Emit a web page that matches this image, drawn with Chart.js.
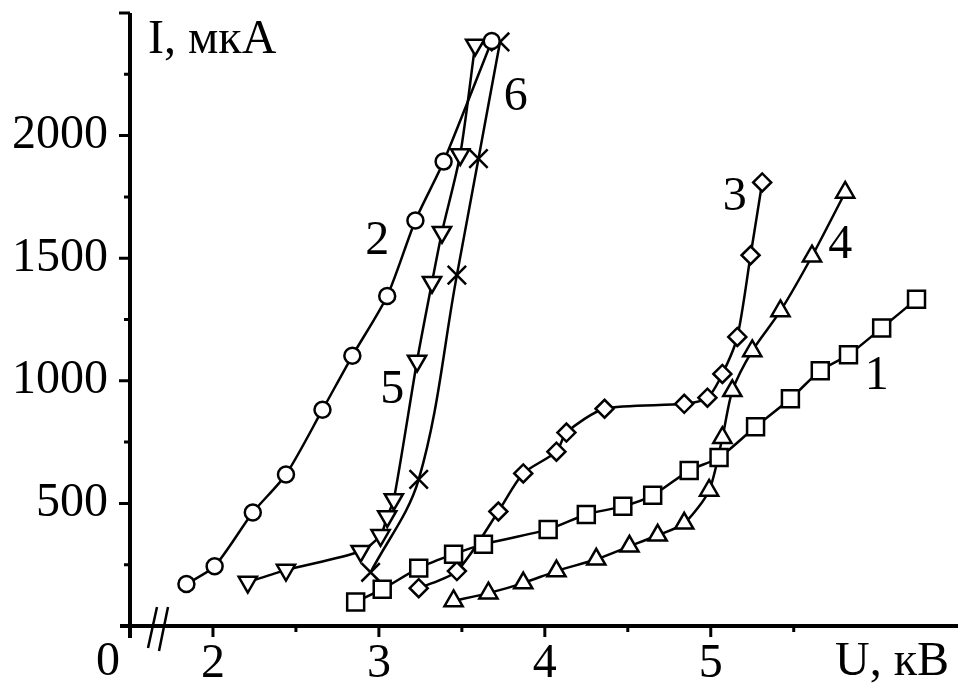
<!DOCTYPE html>
<html>
<head>
<meta charset="utf-8">
<script src="https://cdn.jsdelivr.net/npm/chart.js@4"></script>
<style>
  body { margin: 0; background: #fff; }
  #wrap { width: 958px; height: 689px; }
</style>
</head>
<body>
<div id="wrap"><canvas id="plot" width="958" height="689"></canvas></div>
<script>
// U (kV) and I (uA), one pair per curve
const u1 = [2.86, 3.02, 3.24, 3.45, 3.63, 4.02, 4.25, 4.47, 4.65, 4.87, 5.05, 5.27, 5.48, 5.66, 5.83, 6.03, 6.24];
const i1 = [98, 150, 236, 293, 333, 394, 455, 488, 533, 634, 687, 813, 927, 1041, 1106, 1215, 1333];

const u2 = [1.84, 2.01, 2.24, 2.44, 2.66, 2.84, 3.05, 3.22, 3.39, 3.68];
const i2 = [171, 244, 463, 618, 882, 1102, 1346, 1654, 1894, 2386];

const u3 = [3.24, 3.47, 3.72, 3.87, 4.07, 4.13, 4.36, 4.84, 4.98, 5.07, 5.16, 5.24, 5.31];
const i3 = [154, 224, 467, 622, 711, 789, 886, 906, 931, 1028, 1179, 1512, 1809];

const u4 = [3.45, 3.66, 3.87, 4.07, 4.31, 4.51, 4.68, 4.84, 4.99, 5.07, 5.13, 5.25, 5.42, 5.61, 5.81];
const i4 = [102, 134, 175, 224, 272, 325, 370, 419, 553, 768, 959, 1122, 1285, 1508, 1768];

const u5 = [2.21, 2.44, 2.89, 3.01, 3.05, 3.09, 3.23, 3.32, 3.38, 3.49, 3.58];
const i5 = [179, 228, 305, 370, 447, 516, 1081, 1402, 1606, 1923, 2370];

const u6 = [2.95, 3.24, 3.47, 3.60, 3.73];
const i6 = [219, 598, 1431, 1906, 2382];

// curve numbers, placed in data units
const labelText = ['1', '2', '3', '4', '5', '6'];
const labelU = [6.0, 2.99, 5.145, 5.78, 3.08, 3.825];
const labelI = [1020, 1570, 1750, 1554, 962, 2157];

const yLabels = [500, 1000, 1500, 2000];
const xLabels = [2, 3, 4, 5];

const FONT = "'Liberation Serif', 'DejaVu Serif', serif";
const SIZE = 48;
Chart.defaults.font.family = FONT;
Chart.defaults.color = '#000';

const pts = (u, i) => u.map((v, k) => ({ x: v, y: i[k] }));

function curve(u, i, style, radius, rotation, tension) {
    return {
        data: pts(u, i),
        borderColor: '#000',
        borderWidth: 2.5,
        tension: tension,
        pointStyle: style,
        pointRadius: radius,
        pointRotation: rotation,
        pointBackgroundColor: '#fff',
        pointBorderColor: '#000',
        pointBorderWidth: 2.5,
        clip: false,
        fill: false
    };
}

const axesPlugin = {
    id: 'axes',
    beforeDatasetsDraw(chart) {
        const { ctx, chartArea: a, scales: { x, y } } = chart;
        ctx.save();
        ctx.strokeStyle = '#000';
        ctx.lineWidth = 4;
        ctx.beginPath();
        ctx.moveTo(a.left - 10, a.bottom);
        ctx.lineTo(a.right, a.bottom);
        ctx.moveTo(a.left, a.top);
        ctx.lineTo(a.left, a.bottom + 12);
        ctx.stroke();

        ctx.lineWidth = 3;
        ctx.beginPath();
        x.ticks.forEach((t) => {
            if (t.value > 6.01 || t.value === x.min) return;
            const p = x.getPixelForValue(t.value);
            const len = Number.isInteger(t.value) ? 11 : 6;
            ctx.moveTo(p, a.bottom);
            ctx.lineTo(p, a.bottom + len);
        });
        y.ticks.forEach((t) => {
            if (t.value === 0) return;
            const p = y.getPixelForValue(t.value);
            const len = t.value % 500 === 0 ? 11 : 6;
            ctx.moveTo(a.left, p);
            ctx.lineTo(a.left - len, p);
        });
        ctx.stroke();

        // axis break
        ctx.lineWidth = 2.5;
        ctx.beginPath();
        ctx.moveTo(a.left + 27, a.bottom - 19);
        ctx.lineTo(a.left + 18, a.bottom + 22);
        ctx.moveTo(a.left + 38, a.bottom - 19);
        ctx.lineTo(a.left + 29, a.bottom + 25);
        ctx.stroke();

        ctx.fillStyle = '#000';
        ctx.font = SIZE + 'px ' + FONT;
        ctx.textAlign = 'center';
        ctx.textBaseline = 'middle';
        ctx.fillText('0', a.left - 22, a.bottom + 36);

        ctx.textAlign = 'left';
        ctx.textBaseline = 'alphabetic';
        ctx.fillText('I, мкА', a.left + 18, 53);
        ctx.fillText('U, кВ', 835, 675);
        ctx.restore();
    },
    afterDatasetsDraw(chart) {
        const { ctx, scales: { x, y } } = chart;
        ctx.save();
        ctx.fillStyle = '#000';
        ctx.font = SIZE + 'px ' + FONT;
        ctx.textAlign = 'center';
        ctx.textBaseline = 'middle';
        labelText.forEach((s, k) => {
            ctx.fillText(s, x.getPixelForValue(labelU[k]), y.getPixelForValue(labelI[k]));
        });
        ctx.restore();
    }
};

new Chart(document.getElementById('plot').getContext('2d'), {
    type: 'line',
    data: {
        datasets: [
            curve(u1, i1, 'rect', 12, 0, 0.25),
            curve(u2, i2, 'circle', 8, 0, 0.25),
            curve(u3, i3, 'rectRot', 9, 0, 0.25),
            curve(u4, i4, 'triangle', 10.5, 0, 0.25),
            curve(u5, i5, 'triangle', 10.5, 180, 0.25),
            curve(u6, i6, 'crossRot', 13, 0, 0.35)
        ]
    },
    options: {
        responsive: false,
        animation: false,
        layout: { autoPadding: false, padding: { top: 13, right: 0, left: 0, bottom: 0 } },
        plugins: { legend: { display: false }, tooltip: { enabled: false } },
        scales: {
            x: {
                type: 'linear',
                min: 1.5,
                max: 6.49,
                grid: { display: false, drawTicks: false },
                border: { display: false },
                afterFit: (s) => { s.height = 63; s.paddingLeft = 0; s.paddingRight = 0; },
                ticks: {
                    stepSize: 0.5,
                    autoSkip: false,
                    maxRotation: 0,
                    padding: 10,
                    font: { size: SIZE },
                    callback: (v) => (xLabels.includes(v) ? String(v) : '')
                }
            },
            y: {
                min: 0,
                max: 2500,
                grid: { display: false, drawTicks: false },
                border: { display: false },
                afterFit: (s) => { s.width = 130; s.paddingTop = 0; s.paddingBottom = 0; },
                ticks: {
                    stepSize: 250,
                    autoSkip: false,
                    padding: 22,
                    font: { size: SIZE },
                    callback: (v) => (yLabels.includes(v) ? String(v) : '')
                }
            }
        }
    },
    plugins: [axesPlugin]
});
</script>
</body>
</html>
